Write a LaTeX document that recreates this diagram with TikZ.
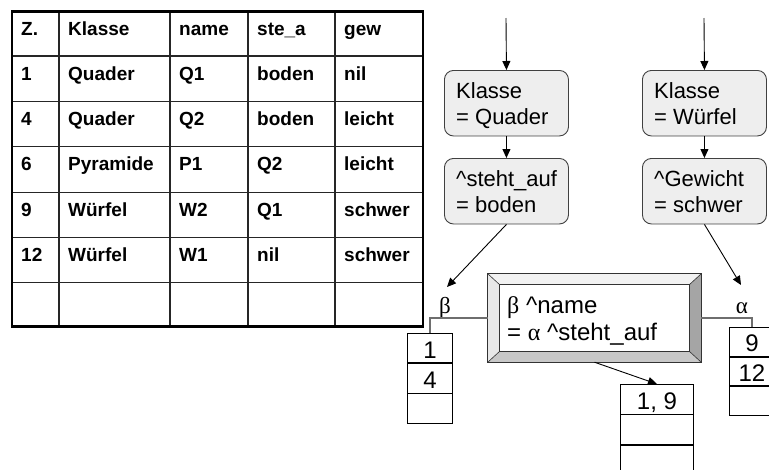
\documentclass[tikz,border=0pt]{standalone}
\usepackage{fontspec}
\setmainfont{Liberation Sans}
\newfontfamily\grk{Liberation Serif}
\usetikzlibrary{arrows.meta,calc}
\definecolor{boxfill}{RGB}{238,238,238}
\definecolor{bevlight}{RGB}{242,242,242}
\definecolor{bevleft}{RGB}{232,232,232}
\definecolor{bevbot}{RGB}{200,200,200}
\definecolor{bevright}{RGB}{165,165,165}
\definecolor{conn}{RGB}{110,110,110}
\begin{document}
\begin{tikzpicture}[x=1pt,y=-1pt,
  tabtxt/.style={font=\fontsize{19}{22}\selectfont\bfseries, anchor=base west, inner sep=0pt},
  tabline/.style={line width=1.2pt, black!85},
  rbox/.style={draw=black!75, line width=0.9pt, rounded corners=9pt, fill=boxfill, minimum width=124pt, minimum height=65.5pt, anchor=north west, inner sep=0pt},
  btxt/.style={font=\fontsize{22}{26}\selectfont, anchor=base west, inner sep=0pt},
  ctxt/.style={font=\fontsize{24}{27}\selectfont, anchor=base west, inner sep=0pt},
  cell/.style={draw=black, line width=0.9pt, inner sep=0pt, anchor=north west},
  celltxt/.style={font=\fontsize{24}{27}\selectfont, anchor=base, inner sep=0pt},
  arr/.style={line width=0.9pt, -{Triangle[length=9pt,width=8pt]}},
  glab/.style={font=\grk\fontsize{23}{26}\selectfont, anchor=base, inner sep=0pt},
  connline/.style={conn, line width=1.2pt},
]
\useasboundingbox (0,0) rectangle (769,469);

% ---------- table ----------
\foreach \x in {59,170,248,335}
  \draw[tabline] (\x,11.7) -- (\x,326.7);
\foreach \y in {56,101.7,146.7,192.3,237.3,282.7}
  \draw[tabline] (12,\y) -- (423,\y);
\draw[line width=2.6pt] (12,11.7) rectangle (423,326.7);

\node[tabtxt] (t00) at (21,35.5) {Z.};
\node[tabtxt] (t01) at (68,35.5) {Klasse};
\node[tabtxt] (t02) at (179,35.5) {name};
\node[tabtxt] (t03) at (257,35.5) {ste\_a};
\node[tabtxt] (t04) at (344,35.5) {gew};

\node[tabtxt] (t10) at (21,80) {1};
\node[tabtxt] (t11) at (68,80) {Quader};
\node[tabtxt] (t12) at (179,80) {Q1};
\node[tabtxt] (t13) at (257,80) {boden};
\node[tabtxt] (t14) at (344,80) {nil};

\node[tabtxt] (t20) at (21,125.5) {4};
\node[tabtxt] (t21) at (68,125.5) {Quader};
\node[tabtxt] (t22) at (179,125.5) {Q2};
\node[tabtxt] (t23) at (257,125.5) {boden};
\node[tabtxt] (t24) at (344,125.5) {leicht};

\node[tabtxt] (t30) at (21,170.5) {6};
\node[tabtxt] (t31) at (68,170.5) {Pyramide};
\node[tabtxt] (t32) at (179,170.5) {P1};
\node[tabtxt] (t33) at (257,170.5) {Q2};
\node[tabtxt] (t34) at (344,170.5) {leicht};

\node[tabtxt] (t40) at (21,216) {9};
\node[tabtxt] (t41) at (68,216) {Würfel};
\node[tabtxt] (t42) at (179,216) {W2};
\node[tabtxt] (t43) at (257,216) {Q1};
\node[tabtxt] (t44) at (344,216) {schwer};

\node[tabtxt] (t50) at (21,261) {12};
\node[tabtxt] (t51) at (68,261) {Würfel};
\node[tabtxt] (t52) at (179,261) {W1};
\node[tabtxt] (t53) at (257,261) {nil};
\node[tabtxt] (t54) at (344,261) {schwer};

% ---------- rounded test boxes ----------
\node[rbox] (q1) at (444,70) {};
\node[btxt] (q1a) at ($(q1.north west)+(12,28)$) {Klasse};
\node[btxt] (q1b) at ($(q1.north west)+(12,54)$) {= Quader};

\node[rbox] (s1) at (444,158) {};
\node[btxt] (s1a) at ($(s1.north west)+(12,28)$) {\textasciicircum steht\_auf};
\node[btxt] (s1b) at ($(s1.north west)+(12,54)$) {= boden};

\node[rbox] (w1) at (642,70) {};
\node[btxt] (w1a) at ($(w1.north west)+(12,28)$) {Klasse};
\node[btxt] (w1b) at ($(w1.north west)+(12,54)$) {= Würfel};

\node[rbox] (g1) at (642,158) {};
\node[btxt] (g1a) at ($(g1.north west)+(12,28)$) {\textasciicircum Gewicht};
\node[btxt] (g1b) at ($(g1.north west)+(12,54)$) {= schwer};

\coordinate (in1) at (506,18);
\coordinate (in2) at (704,18);
\draw[arr] (in1) -- (q1.north);
\draw[arr] (q1.south) -- (s1.north);
\draw[arr] (in2) -- (w1.north);
\draw[arr] (w1.south) -- (g1.north);

% ---------- beveled join box ----------
\node[minimum width=213pt, minimum height=88pt, inner sep=0pt] (cb) at (594.5,318) {};
\coordinate (cinw) at ($(cb.north west)+(12,11)$);
\coordinate (cine) at ($(cb.north east)+(-12,11)$);
\coordinate (cisw) at ($(cb.south west)+(12,-11)$);
\coordinate (cise) at ($(cb.south east)+(-12,-11)$);
\fill[bevlight] (cb.north west) -- (cb.north east) -- (cine) -- (cinw) -- cycle;
\fill[bevleft] (cb.north west) -- (cinw) -- (cisw) -- (cb.south west) -- cycle;
\fill[bevbot] (cb.south west) -- (cisw) -- (cise) -- (cb.south east) -- cycle;
\fill[bevright] (cb.north east) -- (cb.south east) -- (cise) -- (cine) -- cycle;
\draw[line width=0.8pt, black!80, fill=white] (cinw) rectangle (cise);
\draw[line width=0.8pt, black!80] (cb.north west) rectangle (cb.south east);
\draw[line width=0.6pt, black!80] (cb.north west) -- (cinw) (cb.north east) -- (cine)
  (cb.south west) -- (cisw) (cb.south east) -- (cise);
\node[ctxt] (cbt1) at (507,313) {{\grk β} \textasciicircum name};
\node[ctxt] (cbt2) at (507,340) {= {\grk α} \textasciicircum steht\_auf};

% ---------- memories ----------
\node[cell, minimum width=45pt, minimum height=29.3pt] (b1) at (407,333) {};
\node[cell, minimum width=45pt, minimum height=29.3pt] (b2) at (b1.south west) {};
\node[cell, minimum width=45pt, minimum height=29.3pt] (b3) at (b2.south west) {};
\node[celltxt] (b1t) at ($(b1.south)+(0,-5)$) {1};
\node[celltxt] (b2t) at ($(b2.south)+(0,-5)$) {4};

\node[cell, minimum width=45pt, minimum height=28.7pt] (a1) at (729,327) {};
\node[cell, minimum width=45pt, minimum height=28.7pt] (a2) at (a1.south west) {};
\node[cell, minimum width=45pt, minimum height=28.7pt] (a3) at (a2.south west) {};
\node[celltxt] (a1t) at ($(a1.south)+(0,-5)$) {9};
\node[celltxt] (a2t) at ($(a2.south)+(0,-5)$) {12};

\node[cell, minimum width=73pt, minimum height=29.5pt] (r1) at (620,384) {};
\node[cell, minimum width=73pt, minimum height=29.5pt] (r2) at (r1.south west) {};
\node[cell, minimum width=73pt, minimum height=29.5pt] (r3) at (r2.south west) {};
\node[celltxt] (r1t) at ($(r1.south)+(0,-5)$) {1, 9};

\node[glab] (blab) at (445,313) {β};
\node[glab] (alab) at (742,313) {α};

\draw[connline] (cb.west) -| (b1.north);
\draw[connline] (cb.east) -| (a1.north);

\coordinate (bt) at (447,287);
\coordinate (at) at (741,285);
\draw[arr] (s1.south) -- (bt);
\draw[arr] (g1.south) -- (at);
\draw[arr] (cb.south) -- (r1.north);
\end{tikzpicture}
\end{document}
